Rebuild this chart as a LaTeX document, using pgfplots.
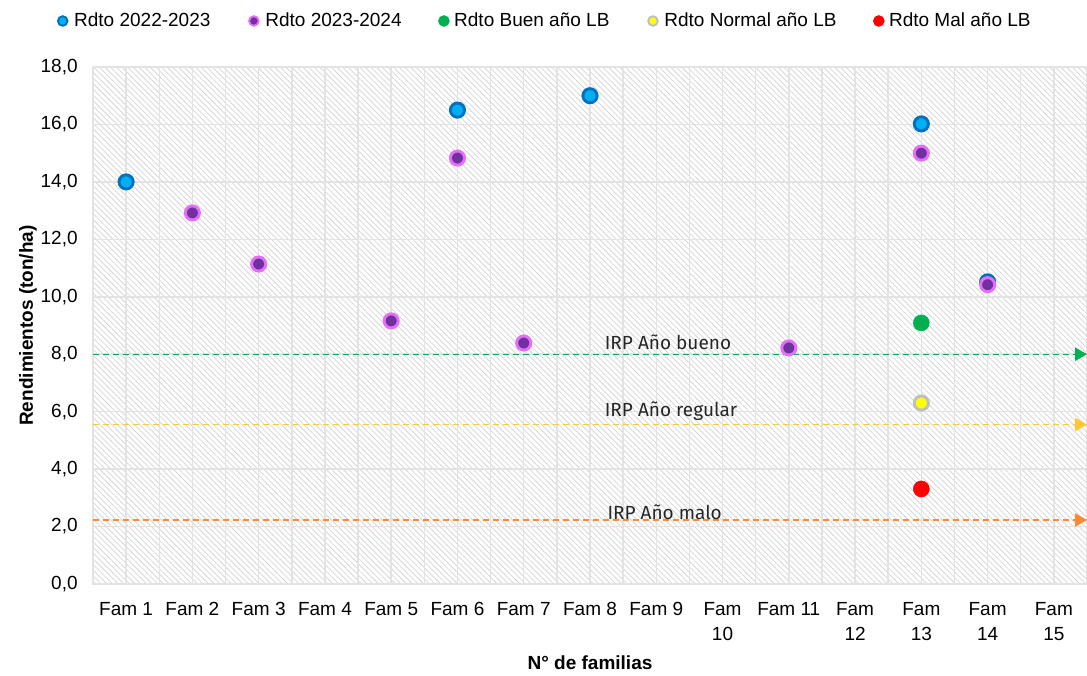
\documentclass[border=0pt]{standalone}
\usepackage{fontspec}
\setmainfont{Liberation Sans}
\newfontfamily\irpfont{Fira Sans}
\usepackage{pgfplots}
\pgfplotsset{compat=1.18}
\usetikzlibrary{arrows.meta,patterns.meta}

\definecolor{blueFill}{HTML}{00B0F0}
\definecolor{blueEdge}{HTML}{0070C0}
\definecolor{purpFill}{HTML}{7030A0}
\definecolor{purpEdge}{HTML}{E56EF7}
\definecolor{lbGreen}{HTML}{00B050}
\definecolor{lbGray}{HTML}{BFBFBF}
\definecolor{lbYellow}{HTML}{FFFF00}
\definecolor{lbRed}{HTML}{FF0000}
\definecolor{irpYellow}{HTML}{FFC82E}
\definecolor{irpOrange}{HTML}{FF8A33}
\definecolor{gridc}{HTML}{E3E3E3}
\definecolor{txt}{HTML}{262626}

\newcommand{\fs}{\fontsize{14.25}{18.75}\selectfont}
\newcommand{\irpfs}{\irpfont\fontsize{14.25}{17}\selectfont}
\pgfplotsset{lgd/.style 2 args={legend image code/.code={%
  \draw[draw=#1,fill=#2,line width=1.4pt] (0pt,0pt) circle (3.6pt);
  \path (-4.5pt,0pt) (5.5pt,0pt);}}}

\begin{document}
\begin{tikzpicture}
\begin{axis}[name=ax,
  scale only axis, width=745.5pt, height=387.75pt,
  xmin=-0.5, xmax=14.5, ymin=0, ymax=18,
  clip=false,
  xtick={0,...,14},
  xticklabels={Fam 1,Fam 2,Fam 3,Fam 4,Fam 5,Fam 6,Fam 7,Fam 8,Fam 9,
    {Fam\\10},Fam 11,{Fam\\12},{Fam\\13},{Fam\\14},{Fam\\15}},
  minor xtick={-0.5,0.5,...,14.5},
  ytick={0,2,...,18},
  major tick length=0pt, minor tick length=0pt,
  grid=both,
  major grid style={gridc, line width=1.1pt},
  minor grid style={gridc, line width=1.1pt},
  axis line style={gridc, line width=1.1pt},
  axis background/.style={pattern={Lines[angle=-45,distance=3pt,line width=0.6pt]},
    pattern color=gray!32},
  tick label style={font=\fs, text=black},
  xticklabel style={align=center, yshift=-10pt},
  yticklabel style={xshift=-8pt,
    /pgf/number format/.cd, fixed, fixed zerofill, precision=1, use comma,
    assume math mode=true},
  xlabel={N° de familias},
  ylabel={Rendimientos (ton/ha)},
  every axis x label/.style={at={(axis description cs:0.5,-0.153)}, anchor=center,
    font=\fs\bfseries},
  every axis y label/.style={at={(axis description cs:-0.0654,0.5)}, anchor=center,
    rotate=90, font=\fs\bfseries},
  legend columns=5,
  legend cell align=left,
  legend style={draw=none, fill=none, font=\fs, at={(0.454,1.089)}, anchor=center,
    /tikz/every even column/.append style={column sep=25pt}},
]
% IRP reference lines
\addplot[forget plot, lbGreen, line width=1pt, dash pattern=on 4.5pt off 3pt,
  -{Triangle[length=9pt,width=10pt]}] coordinates {(-0.5,8.0) (14.5,8.0)};
\addplot[forget plot, irpYellow, line width=1pt, dash pattern=on 4.5pt off 3pt,
  -{Triangle[length=9pt,width=10pt]}] coordinates {(-0.5,5.55) (14.5,5.55)};
\addplot[forget plot, irpOrange, line width=1pt, dash pattern=on 4.5pt off 3pt,
  -{Triangle[length=9pt,width=10pt]}] coordinates {(-0.5,2.23) (14.5,2.23)};

% Rdto 2022-2023
\addplot[only marks, mark=*, mark size=5.3pt, line width=2.2pt,
  draw=blueEdge, fill=blueFill, lgd={blueEdge}{blueFill}] coordinates
  {(0,14.0) (5,16.5) (7,17.0) (12,16.02) (13,10.52)};
\addlegendentry{Rdto 2022-2023}
% Rdto 2023-2024
\addplot[only marks, mark=*, mark size=5.3pt, line width=2.2pt,
  draw=purpEdge, fill=purpFill, lgd={purpEdge}{purpFill}] coordinates
  {(1,12.92) (2,11.14) (4,9.16) (5,14.83) (6,8.39) (10,8.22) (12,15.0) (13,10.42)};
\addlegendentry{Rdto 2023-2024}
% Rdto Buen ano LB
\addplot[only marks, mark=*, mark size=6pt, draw=lbGreen, fill=lbGreen,
  lgd={lbGreen}{lbGreen}] coordinates {(12,9.09)};
\addlegendentry{Rdto Buen año LB}
% Rdto Normal ano LB
\addplot[only marks, mark=*, mark size=5.3pt, line width=2.2pt,
  draw=lbGray, fill=lbYellow, lgd={lbGray}{lbYellow}] coordinates {(12,6.30)};
\addlegendentry{Rdto Normal año LB}
% Rdto Mal ano LB
\addplot[only marks, mark=*, mark size=6pt, draw=lbRed, fill=lbRed,
  lgd={lbRed}{lbRed}] coordinates {(12,3.31)};
\addlegendentry{Rdto Mal año LB}

\node[anchor=south west, inner sep=0pt, yshift=3.5pt, text=txt, font=\irpfs]
  at (axis cs:7.22,8.0) {IRP Año bueno};
\node[anchor=south west, inner sep=0pt, yshift=2.5pt, text=txt, font=\irpfs]
  at (axis cs:7.22,5.55) {IRP Año regular};
\node[anchor=south west, inner sep=0pt, yshift=0pt, text=txt, font=\irpfs]
  at (axis cs:7.26,2.23) {IRP Año malo};
\end{axis}
\pgfresetboundingbox
\path[use as bounding box] ([xshift=-69.75pt,yshift=-68.25pt]ax.south west)
  rectangle ([yshift=50.25pt]ax.north east);
\end{tikzpicture}
\end{document}
